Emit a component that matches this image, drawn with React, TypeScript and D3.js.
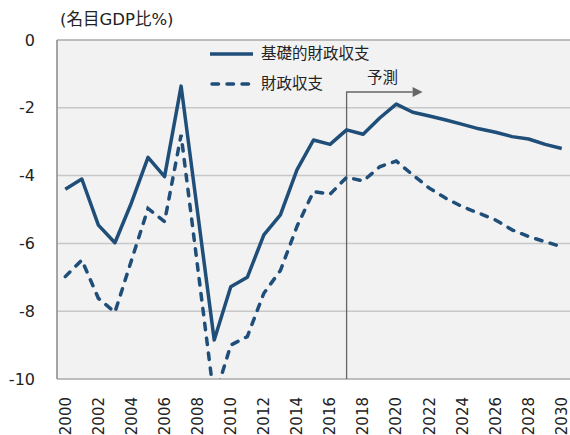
import React from 'react';
import * as d3 from 'd3';

const years = d3.range(2000, 2031).map(String);
const primaryBalance = [
  -4.4, -4.1, -5.46, -5.98, -4.8, -3.46, -4.03, -1.36, -5.1, -8.85,
  -7.28, -7.0, -5.75, -5.16, -3.83, -2.95, -3.08, -2.65, -2.78, -2.3,
  -1.89, -2.13, -2.24, -2.36, -2.49, -2.62, -2.72, -2.85, -2.92, -3.08, -3.2,
];
const fiscalBalance = [
  -6.98, -6.49, -7.62, -8.03, -6.5, -4.97, -5.36, -2.8, -6.7, -10.6,
  -9.0, -8.75, -7.47, -6.8, -5.5, -4.47, -4.55, -4.05, -4.16, -3.74,
  -3.57, -3.98, -4.37, -4.67, -4.92, -5.11, -5.31, -5.6, -5.8, -5.95, -6.1,
];
const yTicks = [0, -2, -4, -6, -8, -10];
const xTickLabels = years.filter((_, i) => i % 2 === 0);
const legendLabels = ['基礎的財政収支', '財政収支'];
const unitLabel = '(名目GDP比%)';
const forecastLabel = '予測';
const forecastYear = '2017';

const W = 570;
const H = 435;
const margin = { top: 40, right: 0, bottom: 56, left: 57 };
const color = '#1f4e79';
const font = '"DejaVu Sans", "Noto Sans CJK JP", sans-serif';

const App = () => {
  const innerW = W - margin.left - margin.right;
  const innerH = H - margin.top - margin.bottom;

  const x = d3.scaleBand().domain(years).range([0, innerW]);
  const y = d3.scaleLinear().domain([-10, 0]).range([innerH, 0]);
  const cx = (yr: string) => (x(yr) ?? 0) + x.bandwidth() / 2;

  const line = d3
    .line<number>()
    .x((_, i) => cx(years[i]))
    .y((d) => y(d));

  const fx = cx(forecastYear);
  const arrowY = 52;
  const dash = '6.5,8.5';

  return (
    <svg width={W} height={H} style={{ position: 'absolute', left: 0, top: 0 }}>
      <defs>
        <clipPath id="plot-clip">
          <rect x={0} y={0} width={innerW} height={innerH} />
        </clipPath>
      </defs>
      <text x={60} y={25} fontSize={16.5} fontFamily={font} fill="#222">
        {unitLabel}
      </text>
      <g transform={`translate(${margin.left},${margin.top})`}>
        <rect x={0} y={0} width={innerW} height={innerH} fill="#f2f2f2" />
        {yTicks.map((t) => (
          <g key={t}>
            {t !== 0 && t !== -10 && (
              <line x1={0} x2={innerW} y1={y(t)} y2={y(t)} stroke="#c8c8c8" strokeWidth={1.5} />
            )}
            <text
              x={-22}
              y={y(t)}
              dy="0.35em"
              textAnchor="end"
              fontSize={16}
              fontFamily={font}
              fill="#222"
            >
              {t}
            </text>
          </g>
        ))}
        <line x1={0} x2={innerW} y1={0} y2={0} stroke="#aaa" strokeWidth={1.5} />
        <line x1={0} x2={innerW} y1={innerH} y2={innerH} stroke="#aaa" strokeWidth={1.5} />
        <line x1={0} x2={0} y1={0} y2={innerH} stroke="#888" strokeWidth={1.5} />

        {/* 予測 marker */}
        <path
          d={`M${fx},${innerH} V${arrowY} H${fx + 66}`}
          fill="none"
          stroke="#666"
          strokeWidth={1.3}
        />
        <path d={`M${fx + 76},${arrowY} l-10,-5 v10 z`} fill="#666" />
        <text
          x={fx + 36}
          y={arrowY - 9}
          textAnchor="middle"
          fontSize={15.5}
          fontFamily={font}
          fill="#222"
        >
          {forecastLabel}
        </text>

        <g clipPath="url(#plot-clip)">
          <path d={line(fiscalBalance) ?? ''} fill="none" stroke={color} strokeWidth={3.5} strokeDasharray={dash} strokeLinecap="round" />
          <path d={line(primaryBalance) ?? ''} fill="none" stroke={color} strokeWidth={3.5} strokeLinejoin="round" />
        </g>

        {/* legend */}
        {legendLabels.map((lbl, i) => (
          <g key={lbl} transform={`translate(153,${14 + i * 30})`}>
            <line
              x1={i === 1 ? 2 : 0}
              x2={43}
              y1={0}
              y2={0}
              stroke={color}
              strokeWidth={3.5}
              strokeLinecap={i === 1 ? 'round' : undefined}
              strokeDasharray={i === 1 ? dash : undefined}
            />
            <text x={51} y={0} dy="0.35em" fontSize={15.5} fontFamily={font} fill="#222">
              {lbl}
            </text>
          </g>
        ))}

        {/* x axis labels */}
        {xTickLabels.map((yr) => (
          <text
            key={yr}
            transform={`translate(${cx(yr)},${innerH + 18}) rotate(-90)`}
            dy="0.35em"
            textAnchor="end"
            fontSize={15}
            fontFamily={font}
            fill="#222"
          >
            {yr}
          </text>
        ))}
      </g>
    </svg>
  );
};

export default App;
